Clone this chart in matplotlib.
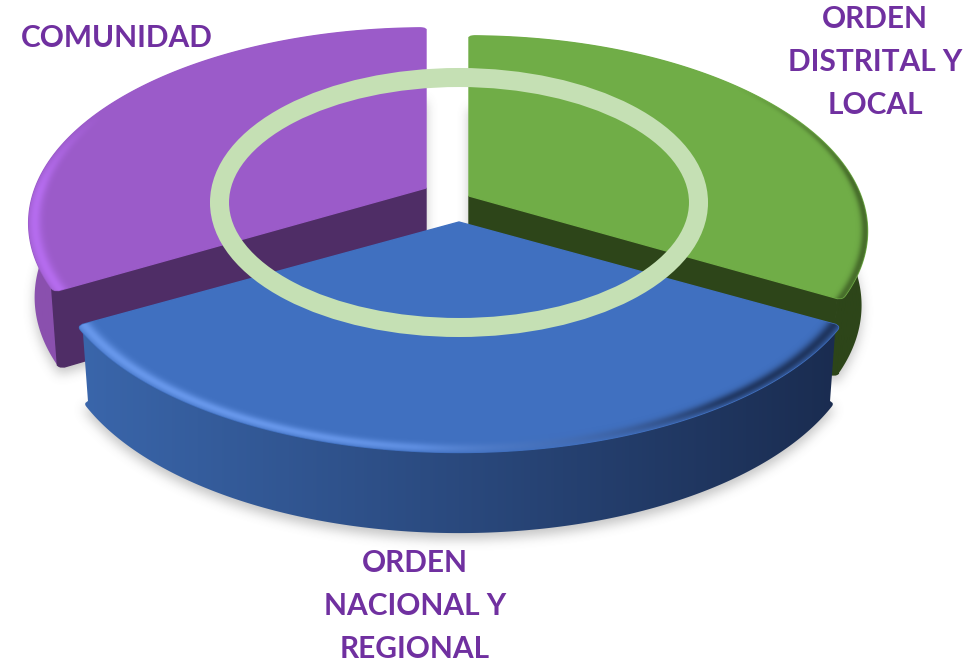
#!/usr/bin/env python3
"""Exploded 3D pie with a ring on top, drawn by hand on a pixel-sized axes."""
import numpy as np
import matplotlib
matplotlib.use('Agg')
import matplotlib.pyplot as plt
from matplotlib.colors import to_rgb, LinearSegmentedColormap
from matplotlib.patches import Ellipse, Polygon
from matplotlib.path import Path

plt.rcParams['font.family'] = ['Lato', 'DejaVu Sans']

# data: three equal shares, clockwise from 12 o'clock
labels = ['ORDEN\nDISTRITAL Y\nLOCAL', 'ORDEN\nNACIONAL Y\nREGIONAL', 'COMUNIDAD']
values = [1, 1, 1]

# styles, same order as the data
top_colors = ['#70AD47', '#4070C0', '#9B5BC9']
wall_colors = ['#2D4519', None, '#4F2D66']
side_left = ['#2D4519', '#3A66AB', '#8A50AE']
side_right = ['#2D4519', '#1A2C50', '#8A50AE']
apex = [(469, 196), (459, 222), (426, 188)]
widen = [0.995, 1.018, 0.992]
label_pos = [(875, 62), (415, 606), (117, 38)]
TEXT_COLOR = '#7030A0'
RING_COLOR = '#C5E0B4'

R, RY, PERSP, DEPTH = 394, 189, 0.18, 73
ROUND_DEG, ROUND_R = 1.1, 0.012


def project(i, t, r=1.0, low=False):
    """unit disc point of slice i at angle t (degrees) -> picture coordinates"""
    u = r * np.cos(np.radians(t))
    v = r * np.sin(np.radians(t))
    w = 1 + PERSP * v
    x = R * widen[i] * u / w
    y = -RY * v / w
    if low:
        x = x * 0.985
        y = y + DEPTH / np.sqrt(w)
    return apex[i][0] + x, apex[i][1] + y


def unproject(i, x, y):
    """picture coordinates -> radius and angle on the top face of slice i"""
    s = -(y - apex[i][1]) / RY
    v = s / (1 - PERSP * s)
    w = 1 + PERSP * v
    u = (x - apex[i][0]) * w / (R * widen[i])
    return np.hypot(u, v), np.degrees(np.arctan2(v, u))


def arc(t1, t2, n=400):
    """angles along a wedge edge and radii that round off both corners"""
    ts = np.linspace(t1, t2, n)
    d = np.minimum(np.abs(ts - t1), np.abs(ts - t2)) / ROUND_DEG
    d = np.clip(d, 0, 1)
    return ts, 1 - ROUND_R * (1 - np.sqrt(1 - (1 - d) ** 2))


def ramp(t, a, b):
    return np.clip((t - a) / (b - a), 0, 1)


def rim(ax, i, clip, color_a, color_b, f_color, f_alpha, mid, width, z):
    """soft rim along the outer edge, one colour per pixel"""
    r, t = unproject(i, xx + .5, yy + .5)
    t = np.where(t > 90, t - 360, t)
    f = f_color(t)[..., None]
    img = np.zeros(xx.shape + (4,))
    img[..., :3] = np.array(to_rgb(color_a)) * (1 - f) + np.array(to_rgb(color_b)) * f
    img[..., 3] = np.exp(-((r - mid) / width) ** 2) * f_alpha(t)
    im = ax.imshow(img, extent=(0, 973, 672, 0), aspect='auto', zorder=z)
    im.set_clip_path(clip)


fig = plt.figure(figsize=(9.73, 6.72), dpi=100)
ax = fig.add_axes([0, 0, 1, 1])
ax.set_xlim(0, 973)
ax.set_ylim(672, 0)
ax.axis('off')

# wedge angles from the values
total = sum(values)
sweeps = [v / total * 360 for v in values]
starts = [90 - sum(sweeps[:i]) for i in range(len(values))]
ends = [s - w for s, w in zip(starts, sweeps)]

# soft shadow under the whole thing
yy, xx = np.mgrid[0:672, 0:973]
grid = np.column_stack([xx.ravel() + .5, yy.ravel() + .5])
mask = np.zeros(xx.shape)
for i in range(len(values)):
    ts = np.linspace(starts[i], ends[i], 120)
    x, y = project(i, ts, low=True)
    outline = np.column_stack([np.r_[apex[i][0], x], np.r_[apex[i][1] + DEPTH, y] + 6])
    mask = np.maximum(mask, Path(outline).contains_points(grid).reshape(xx.shape))
kernel = np.ones(11) / 11
blur = mask.astype(float)
for _ in range(3):
    blur = np.apply_along_axis(np.convolve, 0, blur, kernel, mode='same')
    blur = np.apply_along_axis(np.convolve, 1, blur, kernel, mode='same')
shadow = np.zeros(xx.shape + (4,))
shadow[..., :3] = 0.45
shadow[..., 3] = blur * 0.42
ax.imshow(shadow, extent=(0, 973, 672, 0), aspect='auto', zorder=1)

# back slices first, blue one last
order = [2, 0, 1]
tops = {}
z = 2
for i in order:
    c = apex[i]
    ts, rs = arc(starts[i], ends[i])
    x_top, y_top = project(i, ts, rs)
    x_low, y_low = project(i, ts, rs, low=True)

    # outer side with a left to right gradient
    side = Polygon(np.column_stack([np.r_[x_top, x_low[::-1]], np.r_[y_top, y_low[::-1]]]),
                   closed=True, facecolor='none', edgecolor='none', transform=ax.transData)
    ax.add_patch(side)
    cmap = LinearSegmentedColormap.from_list('side', [side_left[i], side_right[i]])
    im = ax.imshow(np.linspace(0, 1, 256)[None, :], cmap=cmap, aspect='auto',
                   extent=(x_top.min(), x_top.max(), 672, 0), zorder=z)
    im.set_clip_path(side)
    z += 1

    # cut wall, only the one facing the viewer
    if wall_colors[i] is not None:
        t = ends[i] if i == 0 else starts[i]
        keep = np.abs(ts - t) <= ROUND_DEG
        tx, ty = project(i, ts[keep], rs[keep])
        lx, ly = project(i, ts[keep], rs[keep], low=True)
        wall = np.column_stack([np.r_[c[0], tx, lx[::-1], c[0]],
                                np.r_[c[1], ty, ly[::-1], c[1] + DEPTH]])
        ax.add_patch(Polygon(wall, closed=True, facecolor=wall_colors[i],
                             edgecolor=wall_colors[i], linewidth=1, zorder=z))
    z += 1

    # top face
    tops[i] = Polygon(np.column_stack([np.r_[c[0], x_top], np.r_[c[1], y_top]]), closed=True,
                      facecolor=top_colors[i], edgecolor=top_colors[i],
                      linewidth=1, zorder=z)
    ax.add_patch(tops[i])
    z += 1

    # rims, they have to sit under the next slice
    if i == 0:
        rim(ax, i, tops[i], '#2D4519', '#2D4519', lambda t: ramp(t, 0, 1),
            lambda t: ramp(-t, -40, -5) * 0.6, 0.995, 0.011, z)
    elif i == 1:
        rim(ax, i, tops[i], '#6E9EF2', '#1A2C50', lambda t: ramp(t, -95, -55),
            lambda t: 0.85 - 0.45 * np.exp(-((t + 80) / 18) ** 2), 0.985, 0.016, z)
    else:
        rim(ax, i, tops[i], '#B86EF2', '#B86EF2', lambda t: ramp(t, 0, 1),
            lambda t: ramp(t, -205, -180) * 0.9, 0.985, 0.016, z)
    z += 1

# ring on top
ax.add_patch(Ellipse((459, 202.5), 479, 250, fill=False, edgecolor=RING_COLOR,
                     linewidth=13.7, zorder=z))
z += 1

for label, (x, y) in zip(labels, label_pos):
    ax.text(x, y, label, color=TEXT_COLOR, fontsize=21.5, fontweight='bold',
            ha='center', va='center', linespacing=1.67, zorder=z)

ax.set_xlim(0, 973)
ax.set_ylim(672, 0)
fig.savefig('out.png', dpi=100, facecolor='white')
